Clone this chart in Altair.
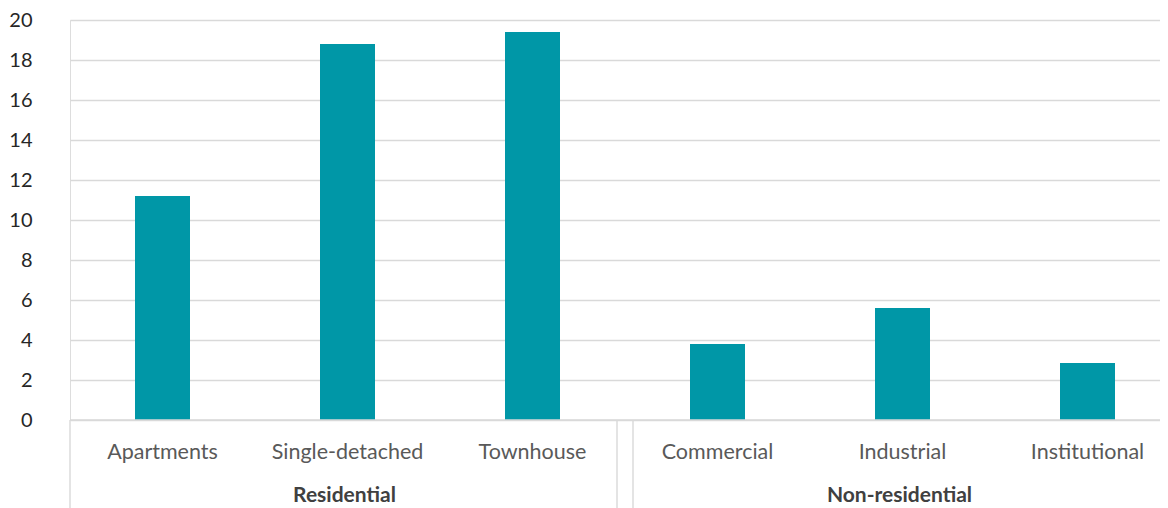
import altair as alt
import pandas as pd

categories = ["Apartments", "Single-detached", "Townhouse", "Commercial", "Industrial", "Institutional"]
values = [11.2, 18.8, 19.4, 3.8, 5.6, 2.85]
groups = ["Residential", "Non-residential"]
group_anchor = ["Single-detached", "Industrial"]

df = pd.DataFrame({"category": categories, "value": values})
gdf = pd.DataFrame({"group": groups, "category": group_anchor})

FONT = "Lato"
xscale = alt.Scale(domain=categories, range=[0, 1110], paddingInner=0, paddingOuter=0)

bars = alt.Chart(df).mark_bar(color="#0097a7", size=55).encode(
    x=alt.X("category:N", sort=categories, scale=xscale,
            axis=alt.Axis(title=None, domain=False, ticks=False, labelAngle=0,
                          labelFont=FONT, labelFontSize=21.5, labelColor="#595959",
                          labelPadding=21)),
    y=alt.Y("value:Q", scale=alt.Scale(domain=[0, 20], nice=False),
            axis=alt.Axis(title=None, values=list(range(0, 21, 2)), domain=False, ticks=False,
                          labelFont=FONT, labelFontSize=20, labelColor="#262626",
                          labelPadding=38, gridColor="#d9d9d9", gridWidth=1.4)),
)

group_text = alt.Chart(gdf).mark_text(font=FONT, fontSize=21, fontWeight="bold",
                                      color="#404040", baseline="middle", dx=-3).encode(
    x=alt.X("category:N", sort=categories, scale=xscale),
    y=alt.value(476),
    text="group:N",
)

frame_color = "#d9d9d9"
base = alt.Chart(pd.DataFrame({"k": [0]}))
h_line = base.mark_rule(color=frame_color, strokeWidth=1.4).encode(
    x=alt.value(0), x2=alt.value(1098), y=alt.value(400))
v_left = base.mark_rule(color=frame_color, strokeWidth=1.4).encode(
    x=alt.value(0), y=alt.value(400), y2=alt.value(500))
v_sep1 = base.mark_rule(color=frame_color, strokeWidth=1.4).encode(
    x=alt.value(547), y=alt.value(400), y2=alt.value(500))
v_sep2 = base.mark_rule(color=frame_color, strokeWidth=1.4).encode(
    x=alt.value(563), y=alt.value(400), y2=alt.value(500))

chart = alt.layer(bars, h_line, v_left, v_sep1, v_sep2, group_text).properties(
    width=1090, height=400,
    autosize=alt.AutoSizeParams(type="none"),
    padding={"left": 62, "top": 12, "right": 0, "bottom": 88},
).configure_view(stroke=None).configure(background="white")

chart.save("out.html", embed_options={"renderer": "svg", "actions": False})
